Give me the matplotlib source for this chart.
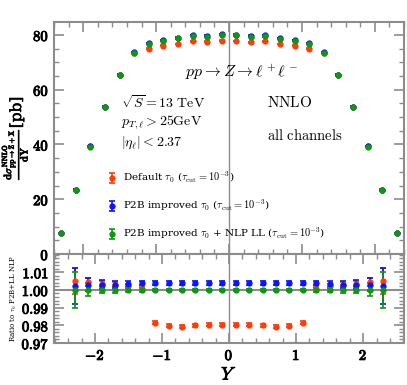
import matplotlib
matplotlib.use("Agg")
import matplotlib.pyplot as plt
import matplotlib.patheffects as pe
from matplotlib.ticker import FuncFormatter, MultipleLocator

plt.rcParams["mathtext.fontset"] = "cm"
plt.rcParams["font.family"] = ["DejaVu Serif"]

# rapidity bins (centres)
rapidity = [-2.3, -2.1, -1.9, -1.7, -1.5, -1.3, -1.1, -0.9, -0.7, -0.5, -0.3, -0.1,
            0.1, 0.3, 0.5, 0.7, 0.9, 1.1, 1.3, 1.5, 1.7, 1.9, 2.1, 2.3]

# dsigma/dY [pb]
xs_default = [7.6, 23.5, 39.3, 53.8, 65.5, 73.4, 75.0, 76.1, 76.7, 77.6, 77.5, 77.9,
              77.8, 77.3, 77.6, 76.7, 76.1, 75.0, 73.4, 65.5, 53.8, 39.3, 23.5, 7.6]
xs_p2b = [7.6, 23.5, 39.3, 53.8, 65.5, 73.6, 77.0, 78.2, 79.0, 79.9, 79.7, 80.2,
          80.1, 79.7, 79.8, 78.8, 78.1, 77.0, 73.6, 65.5, 53.8, 39.3, 23.5, 7.6]
xs_nlp = [7.6, 23.4, 39.2, 53.6, 65.3, 73.3, 76.7, 77.9, 78.7, 79.6, 79.4, 79.9,
          79.8, 79.4, 79.5, 78.5, 77.8, 76.7, 73.3, 65.3, 53.6, 39.2, 23.5, 7.6]
xs_err = [0.08, 0.1, 0.1, 0.1, 0.1, 0.1, 0.1, 0.1, 0.1, 0.1, 0.1, 0.1,
          0.1, 0.1, 0.1, 0.1, 0.1, 0.1, 0.1, 0.1, 0.1, 0.1, 0.1, 0.08]

# ratios to P2B + LL NLP
ratio_default = [1.0050, 1.0045, 1.0035, 1.0030, 1.0022, 1.0008, 0.9815, 0.9797,
                 0.9793, 0.9800, 0.9803, 0.9803, 0.9803, 0.9803, 0.9800, 0.9793,
                 0.9797, 0.9815, 1.0008, 1.0020, 1.0028, 1.0035, 1.0045, 1.0050]
err_default = [0.0073, 0.0025, 0.0018, 0.0015, 0.0012, 0.0010, 0.0008, 0.0008,
               0.0008, 0.0008, 0.0008, 0.0008, 0.0008, 0.0008, 0.0008, 0.0008,
               0.0008, 0.0008, 0.0010, 0.0012, 0.0015, 0.0018, 0.0025, 0.0073]
ratio_p2b = [1.0023, 1.0030, 1.0030, 1.0030, 1.0033, 1.0038, 1.0040, 1.0040,
             1.0040, 1.0040, 1.0040, 1.0040, 1.0040, 1.0040, 1.0040, 1.0040,
             1.0040, 1.0040, 1.0038, 1.0033, 1.0030, 1.0030, 1.0030, 1.0023]
err_p2b = [0.0100, 0.0038, 0.0025, 0.0018, 0.0015, 0.0013, 0.0012, 0.0012,
           0.0012, 0.0012, 0.0012, 0.0012, 0.0012, 0.0012, 0.0012, 0.0012,
           0.0012, 0.0012, 0.0013, 0.0015, 0.0018, 0.0025, 0.0038, 0.0100]
ratio_nlp = [1.0, 1.0, 1.0, 1.0, 1.0, 1.0, 1.0, 1.0, 1.0, 1.0, 1.0, 1.0,
             1.0, 1.0, 1.0, 1.0, 1.0, 1.0, 1.0, 1.0, 1.0, 1.0, 1.0, 1.0]
err_nlp = [0.0100, 0.0037, 0.0020, 0.0016, 0.0012, 0.0009, 0.0008, 0.0008,
           0.0008, 0.0008, 0.0008, 0.0008, 0.0008, 0.0008, 0.0008, 0.0008,
           0.0008, 0.0008, 0.0009, 0.0012, 0.0016, 0.0020, 0.0037, 0.0100]

labels = [r"Default $\tau_0$ ($\tau_{\rm cut}=10^{-3}$)",
          r"P2B improved $\tau_0$ ($\tau_{\rm cut}=10^{-3}$)",
          r"P2B improved $\tau_0$ + NLP LL ($\tau_{\rm cut}=10^{-3}$)"]
colors = ["#ff3c0a", "#0a14ff", "#0a9a0a"]

GRAY = "#8c8c8c"
BOLD = [pe.withStroke(linewidth=0.7, foreground="black")]


def bold_fmt(fmt):
    return FuncFormatter(lambda v, pos: r"$\mathbf{" + (fmt % v) + "}$")


def style_axes(ax):
    for side in ax.spines.values():
        side.set_color(GRAY)
        side.set_linewidth(1.5)
    ax.tick_params(which="both", direction="in", top=True, right=True,
                   color=GRAY, labelsize=10.5)
    ax.tick_params(which="major", length=7, width=1.2)
    ax.tick_params(which="minor", length=3.5, width=1.0)
    for lab in ax.get_xticklabels() + ax.get_yticklabels():
        lab.set_path_effects(BOLD)


fig = plt.figure(figsize=(4.07, 3.85), dpi=100)
ax_top = fig.add_axes([0.1327, 0.3403, 0.8600, 0.6026])
ax_bot = fig.add_axes([0.1327, 0.1090, 0.8600, 0.2313])

# upper panel
for ys, c, lab in zip([xs_default, xs_p2b, xs_nlp], colors, labels):
    ax_top.errorbar(rapidity, ys, yerr=xs_err, fmt="o", color=c, ms=3.5,
                    capsize=2.5, elinewidth=1.2, capthick=1.2, label=lab)
ax_top.axvline(0, color=GRAY, lw=1.0, zorder=0)
ax_top.set_xlim(-2.4, 2.4)
ax_top.set_ylim(0, 84.7)
ax_top.xaxis.set_major_locator(MultipleLocator(1))
ax_top.xaxis.set_minor_locator(MultipleLocator(0.2))
ax_top.yaxis.set_major_locator(MultipleLocator(20))
ax_top.yaxis.set_minor_locator(MultipleLocator(5))
ax_top.yaxis.set_major_formatter(bold_fmt("%d"))
style_axes(ax_top)
ax_top.tick_params(labelbottom=False)
ax_top.set_ylabel(r"$\frac{\mathbf{d}\sigma^{\mathbf{NNLO}}_{\mathbf{pp\to Z+X}}}{\mathbf{dY}}$[pb]",
                  fontsize=11)
ax_top.yaxis.set_label_coords(-0.068, 0.5)
ax_top.yaxis.label.set_path_effects([pe.withStroke(linewidth=0.4, foreground="black")])

ax_top.text(0.537, 0.784, r"$pp\to Z\to\ell^+\ell^-$", transform=ax_top.transAxes,
            fontsize=11.5, ha="center", va="center")
ax_top.text(0.609, 0.655, r"$\mathrm{NNLO}$", transform=ax_top.transAxes,
            fontsize=11, ha="left", va="center")
ax_top.text(0.609, 0.509, r"$\mathrm{all\ channels}$", transform=ax_top.transAxes,
            fontsize=10.5, ha="left", va="center")
ax_top.text(0.19, 0.655, r"$\sqrt{S}=13\ \mathrm{TeV}$", transform=ax_top.transAxes,
            fontsize=10, ha="left", va="center")
ax_top.text(0.19, 0.57, r"$p_{T,\ell}>25\mathrm{GeV}$", transform=ax_top.transAxes,
            fontsize=10, ha="left", va="center")
ax_top.text(0.19, 0.478, r"$|\eta_\ell|<2.37$", transform=ax_top.transAxes,
            fontsize=10, ha="left", va="center")

ax_top.legend(loc="lower left", bbox_to_anchor=(0.119, 0.0), frameon=False,
              fontsize=7.5, handlelength=0.8, handletextpad=0.6,
              labelspacing=1.2, borderaxespad=0.8)

# ratio panel
for ys, es, c in zip([ratio_default, ratio_p2b, ratio_nlp],
                     [err_default, err_p2b, err_nlp], colors):
    ax_bot.errorbar(rapidity, ys, yerr=es, fmt="o", color=c, ms=3.5,
                    capsize=2.5, elinewidth=1.2, capthick=1.2)
ax_bot.axhline(1.0, color=GRAY, lw=1.5, zorder=0)
ax_bot.axvline(0, color=GRAY, lw=1.0, zorder=0)
ax_bot.set_xlim(-2.61, 2.61)
ax_bot.set_ylim(0.97, 1.0203)
ax_bot.set_yticks([0.97, 0.98, 0.99, 1.00, 1.01])
ax_bot.yaxis.set_minor_locator(MultipleLocator(0.002))
ax_bot.xaxis.set_major_locator(MultipleLocator(1))
ax_bot.xaxis.set_minor_locator(MultipleLocator(0.2))
ax_bot.yaxis.set_major_formatter(bold_fmt("%.2f"))
ax_bot.xaxis.set_major_formatter(bold_fmt("%d"))
style_axes(ax_bot)
ax_bot.set_xlabel(r"$\mathbf{\mathit{Y}}$", fontsize=13, labelpad=2)
ax_bot.xaxis.label.set_path_effects([pe.withStroke(linewidth=0.6, foreground="black")])
ax_bot.set_ylabel(r"Ratio to $\tau_0$ P2B+LL NLP", fontsize=5)
ax_bot.yaxis.set_label_coords(-0.1, 0.5)

fig.savefig("out.png", dpi=100)
